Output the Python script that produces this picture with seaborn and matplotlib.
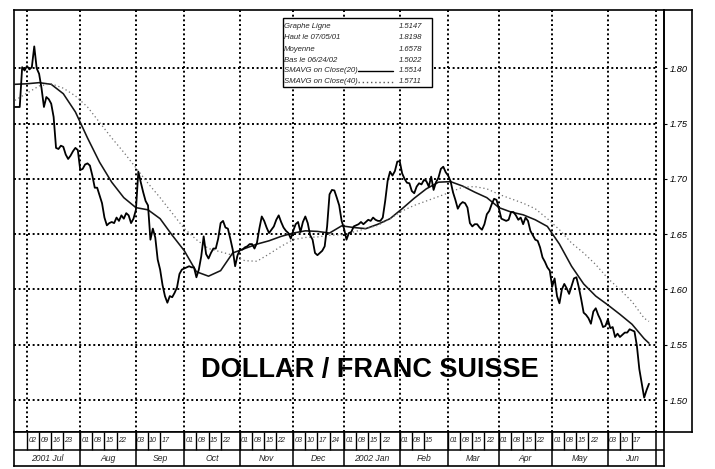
import numpy as np
import pandas as pd
import matplotlib
matplotlib.use("Agg")
import matplotlib.pyplot as plt
import matplotlib.patches as mpatches
import seaborn as sns

# ---- data -------------------------------------------------------------
first_day = "2001-06-25"          # trading-day 0 (weekdays only)

# USD/CHF daily close, one value per weekday from 2001-06-25
close = [
    1.765, 1.765, 1.765, 1.801, 1.798, 1.802, 1.799, 1.801, 1.8198, 1.800,
    1.795, 1.782, 1.765, 1.774, 1.772, 1.768, 1.756, 1.728, 1.727, 1.730,
    1.729, 1.722, 1.718, 1.721, 1.725, 1.728, 1.726, 1.708, 1.709, 1.713,
    1.714, 1.712, 1.703, 1.692, 1.692, 1.685, 1.678, 1.665, 1.658, 1.660,
    1.661, 1.660, 1.665, 1.662, 1.667, 1.664, 1.669, 1.667, 1.660, 1.664,
    1.672, 1.7065, 1.697, 1.688, 1.680, 1.676, 1.645, 1.655, 1.647, 1.627,
    1.618, 1.604, 1.594, 1.588, 1.594, 1.593, 1.597, 1.602, 1.614, 1.618,
    1.619, 1.620, 1.621, 1.620, 1.620, 1.611, 1.618, 1.630, 1.648, 1.632,
    1.628, 1.633, 1.637, 1.637, 1.646, 1.660, 1.662, 1.656, 1.655, 1.646,
    1.636, 1.621, 1.631, 1.636, 1.636, 1.638, 1.639, 1.641, 1.641, 1.637,
    1.642, 1.655, 1.666, 1.662, 1.656, 1.651, 1.654, 1.657, 1.663, 1.667,
    1.661, 1.656, 1.653, 1.651, 1.646, 1.653, 1.659, 1.661, 1.652, 1.661,
    1.666, 1.660, 1.649, 1.645, 1.633, 1.631, 1.633, 1.635, 1.639, 1.657,
    1.686, 1.690, 1.6895, 1.683, 1.676, 1.662, 1.655, 1.645, 1.651, 1.652,
    1.657, 1.658, 1.659, 1.661, 1.659, 1.661, 1.663, 1.662, 1.665, 1.663,
    1.662, 1.662, 1.665, 1.680, 1.698, 1.7065, 1.703, 1.707, 1.7156, 1.716,
    1.705, 1.700, 1.6965, 1.696, 1.689, 1.687, 1.693, 1.696, 1.695, 1.699,
    1.698, 1.693, 1.702, 1.690, 1.697, 1.701, 1.709, 1.711, 1.706, 1.703,
    1.698, 1.688, 1.681, 1.673, 1.677, 1.679, 1.678, 1.674, 1.660, 1.657,
    1.659, 1.659, 1.656, 1.654, 1.659, 1.668, 1.671, 1.677, 1.682, 1.681,
    1.673, 1.664, 1.663, 1.662, 1.663, 1.670, 1.670, 1.667, 1.663, 1.665,
    1.659, 1.665, 1.662, 1.653, 1.649, 1.645, 1.644, 1.638, 1.629, 1.625,
    1.620, 1.617, 1.6025, 1.610, 1.594, 1.5875, 1.600, 1.605, 1.601, 1.596,
    1.603, 1.610, 1.611, 1.602, 1.591, 1.579, 1.577, 1.574, 1.569, 1.580,
    1.583, 1.577, 1.5724, 1.566, 1.567, 1.573, 1.565, 1.566, 1.557, 1.560,
    1.557, 1.559, 1.561, 1.561, 1.564, 1.563, 1.562, 1.549, 1.528, 1.515,
    1.5022, 1.509, 1.5147,
]

# moving averages, sampled every fifth trading day
sma_days = list(range(0, 261, 5)) + [262]
sma20 = [
    1.7855, 1.786, 1.787, 1.7855, 1.777, 1.7605, 1.737, 1.715, 1.697, 1.683,
    1.674, 1.672, 1.664, 1.649, 1.635, 1.616, 1.612, 1.617, 1.633, 1.637,
    1.641, 1.644, 1.648, 1.651, 1.653, 1.6525, 1.651, 1.6575, 1.656, 1.655,
    1.659, 1.664, 1.673, 1.6825, 1.691, 1.697, 1.6975, 1.6935, 1.688, 1.683,
    1.674, 1.670, 1.6675, 1.663, 1.657, 1.641, 1.621, 1.605, 1.594, 1.586,
    1.5775, 1.5685, 1.5555, 1.5514,
]
sma40 = [
    1.771, 1.7775, 1.784, 1.786, 1.782, 1.775, 1.765, 1.751, 1.737, 1.724,
    1.710, 1.696, 1.683, 1.669, 1.655, 1.645, 1.637, 1.634, 1.631, 1.626,
    1.6255, 1.632, 1.639, 1.645, 1.647, 1.6475, 1.649, 1.6495, 1.652, 1.655,
    1.658, 1.664, 1.671, 1.676, 1.680, 1.684, 1.688, 1.6925, 1.693, 1.691,
    1.686, 1.682, 1.678, 1.673, 1.664, 1.654, 1.642, 1.633, 1.6225, 1.610,
    1.600, 1.589, 1.574, 1.5711,
]
average_value = 1.6578

y_ticks = [1.50, 1.55, 1.60, 1.65, 1.70, 1.75, 1.80]

# weekly date ticks (day labels), month starts and month names
tick_dates = [
    "2001-07-02", "2001-07-09", "2001-07-16", "2001-07-23",
    "2001-08-01", "2001-08-08", "2001-08-15", "2001-08-22",
    "2001-09-03", "2001-09-10", "2001-09-17",
    "2001-10-01", "2001-10-08", "2001-10-15", "2001-10-22",
    "2001-11-01", "2001-11-08", "2001-11-15", "2001-11-22",
    "2001-12-03", "2001-12-10", "2001-12-17", "2001-12-24",
    "2002-01-01", "2002-01-08", "2002-01-15", "2002-01-22",
    "2002-02-01", "2002-02-08", "2002-02-15",
    "2002-03-01", "2002-03-08", "2002-03-15", "2002-03-22",
    "2002-04-01", "2002-04-08", "2002-04-15", "2002-04-22",
    "2002-05-01", "2002-05-08", "2002-05-15", "2002-05-22",
    "2002-06-03", "2002-06-10", "2002-06-17",
]
month_starts = [
    "2001-07-02", "2001-08-01", "2001-09-03", "2001-10-01", "2001-11-01",
    "2001-12-03", "2002-01-01", "2002-02-01", "2002-03-01", "2002-04-01",
    "2002-05-01", "2002-06-03", "2002-07-01",
]
month_labels = ["2001 Jul", "Aug", "Sep", "Oct", "Nov", "Dec",
                "2002 Jan", "Feb", "Mar", "Apr", "May", "Jun"]

# ---- style ------------------------------------------------------------
sns.set_theme(style="white")
plt.rcParams["font.family"] = ["Liberation Sans", "DejaVu Sans"]

trading_days = pd.bdate_range(first_day, "2002-07-12")


def day_no(d):
    return trading_days.get_loc(pd.Timestamp(d))


W, H = 715, 469


def fig_box(x0, y0, x1, y1):
    return [x0 / W, 1 - y1 / H, (x1 - x0) / W, (y1 - y0) / H]


fig = plt.figure(figsize=(W / 100, H / 100), dpi=100, facecolor="white")
ax = fig.add_axes(fig_box(14, 10, 664, 432))
panel = fig.add_axes(fig_box(664, 10, 692, 432), facecolor="none")
strip = fig.add_axes(fig_box(14, 432, 664, 466))

x_lo, x_hi = -0.37, 268.2
y_lo, y_hi = 1.4711, 1.8527
ax.set_xlim(x_lo, x_hi)
ax.set_ylim(y_lo, y_hi)

# dotted grid
dots = (0, (1, 1.4))
grid_end = day_no(month_starts[-1])
ax.hlines(y_ticks, x_lo, grid_end, colors="black", linestyles=dots, lw=1.4, zorder=1)
ax.vlines([day_no(d) for d in month_starts], y_lo, y_hi, colors="black",
          linestyles=dots, lw=1.4, zorder=1)

# series
sns.lineplot(x=np.arange(len(close)), y=close, ax=ax, color="black", lw=1.3,
             zorder=4, sort=False)
sns.lineplot(x=sma_days, y=sma20, ax=ax, color="#151515", lw=1.15, zorder=3, sort=False)
sns.lineplot(x=sma_days, y=sma40, ax=ax, color="#707070", lw=0.9,
             linestyle=(0, (1, 2.2)), zorder=3, sort=False)

# axes frame and price scale on the right
ax.set_xticks([])
ax.yaxis.tick_right()
ax.set_yticks(y_ticks)
ax.set_yticklabels([f"{v:.2f}" for v in y_ticks], fontstyle="italic")
ax.tick_params(axis="y", direction="out", length=2.5, width=0.8, pad=1.5,
               labelsize=6.7, colors="black", right=True)
ax.set_xlabel("")
ax.set_ylabel("")
for sp in ax.spines.values():
    sp.set_visible(True)
    sp.set_color("black")
    sp.set_linewidth(1.2)

panel.set_xticks([])
panel.set_yticks([])
for sp in panel.spines.values():
    sp.set_color("black")
    sp.set_linewidth(1.2)

# title inside the plot
ax.text(0.548, 0.147, "DOLLAR / FRANC SUISSE", transform=ax.transAxes,
        ha="center", va="center", fontsize=19.5, fontweight="bold",
        color="black", zorder=6)

# statistics box
box = mpatches.Rectangle((0.4134, 0.8168), 0.2292, 0.1635, transform=ax.transAxes,
                         facecolor="white", edgecolor="black", lw=1.0, zorder=7)
ax.add_patch(box)
hi_idx = int(np.argmax(close))
lo_idx = int(np.argmin(close))
legend_rows = [
    ("Graphe Ligne", close[-1]),
    ("Haut le " + trading_days[hi_idx].strftime("%m/%d/%y"), close[hi_idx]),
    ("Moyenne", average_value),
    ("Bas le " + trading_days[lo_idx].strftime("%m/%d/%y"), close[lo_idx]),
    ("SMAVG on Close(20)", sma20[-1]),
    ("SMAVG on Close(40)", sma40[-1]),
]
row_y = [0.9604, 0.9343, 0.9068, 0.8815, 0.8555, 0.8301]
for (name, val), yy in zip(legend_rows, row_y):
    ax.text(0.4157, yy, name, transform=ax.transAxes, ha="left", va="center",
            fontsize=5.6, fontstyle="italic", zorder=8)
    ax.text(0.6275, yy, f"{val:.4f}", transform=ax.transAxes, ha="right",
            va="center", fontsize=5.6, fontstyle="italic", zorder=8)
ax.plot([0.529, 0.5834], [row_y[4]] * 2, transform=ax.transAxes, color="black",
        lw=1.0, zorder=8)
ax.plot([0.529, 0.5834], [row_y[5]] * 2, transform=ax.transAxes, color="#555555",
        lw=1.0, linestyle=(0, (1, 2)), zorder=8)

# date strip: weekly ticks on top row, months on bottom row
strip.set_xlim(x_lo, x_hi)
strip.set_ylim(0, 34)
strip.set_xticks([])
strip.set_yticks([])
for sp in strip.spines.values():
    sp.set_color("black")
    sp.set_linewidth(1.2)
strip.axhline(16, color="black", lw=1.1)
tick_pos = [day_no(d) for d in tick_dates]
strip.vlines(tick_pos, 16, 34, colors="black", lw=1.0)
month_pos = [day_no(d) for d in month_starts]
strip.vlines(month_pos[1:], 0, 34, colors="black", lw=1.1)
for d, p in zip(tick_dates, tick_pos):
    strip.text(p + 0.5, 25, d[-2:], ha="left", va="center", fontsize=5.2,
               fontstyle="italic")
edges = [x_lo] + month_pos[1:]
for lab, a, b in zip(month_labels, edges[:-1], edges[1:]):
    strip.text((a + b) / 2, 7.5, lab, ha="center", va="center", fontsize=6.2,
               fontstyle="italic")

fig.savefig("out.png", dpi=100, facecolor="white")
